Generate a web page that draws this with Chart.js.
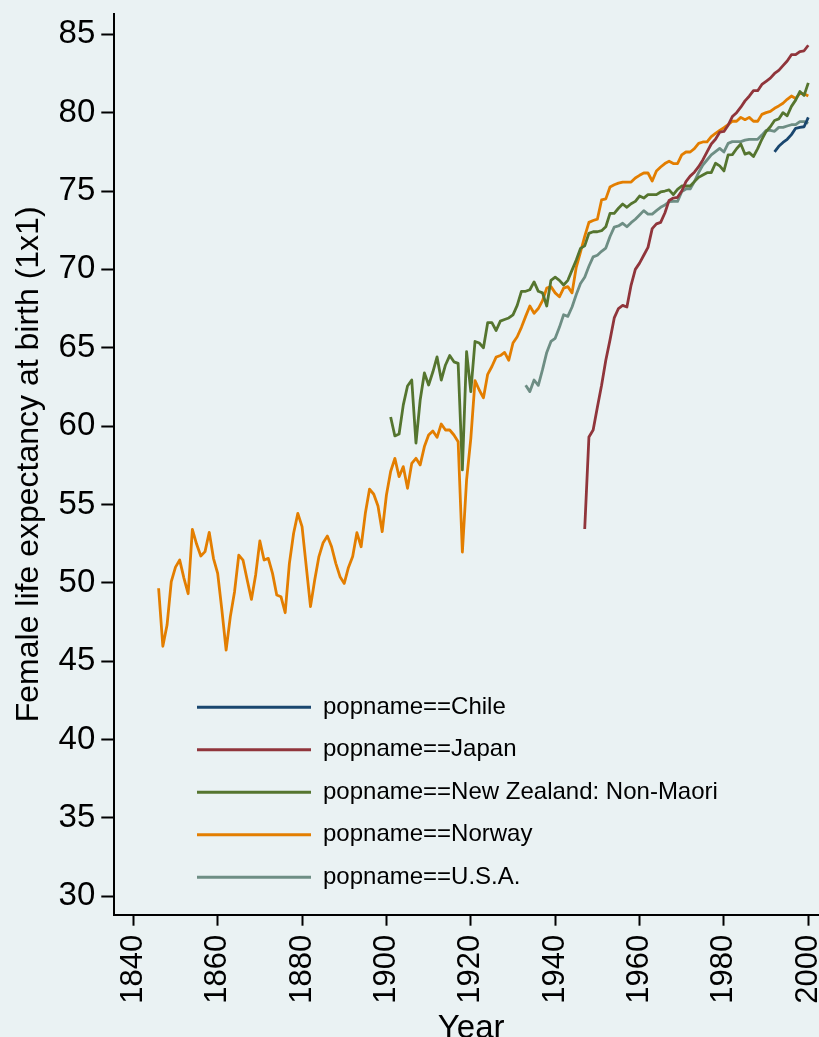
<!DOCTYPE html>
<html>
<head>
<meta charset="utf-8">
<script src="https://cdn.jsdelivr.net/npm/chart.js@4/dist/chart.umd.min.js"></script>
<style>
  html, body { margin: 0; padding: 0; background: #eaf2f3; overflow: hidden; width: 819px; height: 1037px; }
  #wrap { position: absolute; left: 0; top: 0; width: 880px; height: 1080px; }
  canvas { display: block; }
</style>
</head>
<body>
<div id="wrap"><canvas id="c" width="880" height="1080"></canvas></div>
<script>
// ---------------- data ----------------
const xTickValues = [1840, 1860, 1880, 1900, 1920, 1940, 1960, 1980, 2000];
const yTickValues = [30, 35, 40, 45, 50, 55, 60, 65, 70, 75, 80, 85];

const seriesLabels = ['popname==Chile', 'popname==Japan', 'popname==New Zealand: Non-Maori', 'popname==Norway', 'popname==U.S.A.'];
const seriesColors = ['#1a476f', '#90353b', '#55752f', '#e37e00', '#6e8e84'];

const chileFirstYear = 1992;
const chileValues = [77.5, 77.85, 78.1, 78.3, 78.6, 79.0, 79.06, 79.1, 79.7];

const japanFirstYear = 1947;
const japanValues = [
  53.43, 59.3, 59.75,
  61.2, 62.6, 64.2, 65.5, 66.9, 67.5, 67.7, 67.6, 69.0, 70.0,
  70.4, 70.9, 71.4, 72.6, 72.9, 73.0, 73.6, 74.4, 74.55, 74.6,
  75.0, 75.6, 75.95, 76.2, 76.55, 76.98, 77.5, 78.0, 78.3, 78.75,
  78.8, 79.2, 79.75, 80.0, 80.35, 80.75, 81.05, 81.4, 81.4, 81.8,
  82.0, 82.2, 82.5, 82.7, 83.0, 83.3, 83.7, 83.7, 83.9, 83.95, 84.3
];

const nzFirstYear = 1901;
const nzValues = [
  60.58, 59.37, 59.49, 61.35, 62.56, 62.94, 58.92, 61.66, 63.39,
  62.62, 63.45, 64.41, 62.94, 63.9, 64.5, 64.1, 64.0, 57.2, 64.75,
  62.2, 65.4, 65.3, 65.0, 66.6, 66.6, 66.1, 66.7, 66.8, 66.9,
  67.1, 67.7, 68.6, 68.6, 68.7, 69.2, 68.6, 68.5, 67.66, 69.3,
  69.5, 69.3, 69.0, 69.3, 69.95, 70.6, 71.34, 71.5, 72.3, 72.4,
  72.4, 72.47, 72.72, 73.57, 73.57, 73.9, 74.17, 73.96, 74.19, 74.34,
  74.68, 74.55, 74.77, 74.77, 74.77, 74.94, 75.0, 75.07, 74.77, 75.11,
  75.32, 75.32, 75.32, 75.6, 75.87, 76.02, 76.17, 76.17, 76.77, 76.6,
  76.28, 77.3, 77.32, 77.7, 78.0, 77.35, 77.45, 77.2, 77.7, 78.3,
  78.8, 79.1, 79.5, 79.6, 80.0, 79.8, 80.4, 80.8, 81.35, 81.1, 81.9
];

const norwayFirstYear = 1846;
const norwayValues = [
  49.65, 45.95, 47.3, 50.07,
  51.0, 51.45, 50.3, 49.3, 53.41, 52.47, 51.71, 51.99, 53.22, 51.56,
  50.6, 48.26, 45.71, 47.84, 49.43, 51.77, 51.45, 50.18, 48.94, 50.5,
  52.67, 51.45, 51.56, 50.6, 49.22, 49.11, 48.09, 51.24, 53.16, 54.43,
  53.58, 51.03, 48.48, 50.18, 51.67, 52.56, 52.98, 52.3, 51.24, 50.39,
  49.96, 50.98, 51.67, 53.2, 52.3, 54.43, 55.98, 55.65, 54.9, 53.26,
  55.6, 57.1, 57.94, 56.77, 57.41, 56.03, 57.62, 57.94, 57.52, 58.69,
  59.43, 59.69, 59.28, 60.13, 59.75, 59.75, 59.43, 59.0, 51.96, 56.56,
  59.2, 62.9, 62.3, 61.8, 63.3, 63.8, 64.4, 64.5, 64.7, 64.2,
  65.3, 65.7, 66.3, 67.0, 67.66, 67.2, 67.5, 68.0, 68.8, 68.9,
  68.5, 68.25, 68.8, 68.9, 68.5, 70.15, 71.1, 72.1, 73.0, 73.12,
  73.2, 74.43, 74.5, 75.26, 75.4, 75.5, 75.57, 75.57, 75.57, 75.83,
  76.0, 76.15, 76.15, 75.64, 76.28, 76.53, 76.75, 76.9, 76.75, 76.75,
  77.3, 77.49, 77.49, 77.7, 78.04, 78.13, 78.13, 78.47, 78.68, 78.87,
  79.04, 79.23, 79.45, 79.45, 79.7, 79.55, 79.7, 79.45, 79.45, 79.89,
  80.0, 80.08, 80.28, 80.43, 80.6, 80.85, 81.06, 80.9, 81.23, 81.2, 81.06
];

const usaFirstYear = 1933;
const usaValues = [
  62.6, 62.2, 62.94, 62.6, 63.6, 64.7, 65.4,
  65.6, 66.3, 67.1, 67.0, 67.6, 68.4, 69.1, 69.5, 70.2, 70.8,
  70.9, 71.15, 71.36, 72.1, 72.7, 72.77, 72.94, 72.72, 72.98, 73.2,
  73.47, 73.75, 73.53, 73.53, 73.75, 73.96, 74.1, 74.32, 74.34, 74.34,
  74.96, 75.13, 75.13, 75.6, 76.17, 76.66, 76.98, 77.3, 77.51, 77.72,
  77.49, 78.04, 78.15, 78.15, 78.15, 78.25, 78.3, 78.3, 78.3, 78.57,
  78.87, 78.87, 78.81, 79.06, 79.06, 79.15, 79.23, 79.23, 79.43, 79.43, 79.32
];

// ---------------- chart ----------------
const FONT = '"Liberation Sans", Arial, Helvetica, sans-serif';
Chart.defaults.font.family = FONT;
Chart.defaults.color = '#000';

function toPoints(firstYear, values) {
  return values.map((v, i) => ({ x: firstYear + i, y: v }));
}

const seriesData = [
  toPoints(chileFirstYear, chileValues),
  toPoints(japanFirstYear, japanValues),
  toPoints(nzFirstYear, nzValues),
  toPoints(norwayFirstYear, norwayValues),
  toPoints(usaFirstYear, usaValues)
];

const datasets = seriesLabels.map((label, i) => ({
  label: label,
  data: seriesData[i],
  borderColor: seriesColors[i],
  backgroundColor: seriesColors[i],
  pointBorderColor: seriesColors[i],
  pointBackgroundColor: seriesColors[i],
  borderWidth: 2.8,
  pointBorderWidth: 3,
  pointRadius: 0,
  pointHoverRadius: 0,
  tension: 0,
  fill: false,
  borderJoinStyle: 'round'
}));

const CANVAS_H = 1080;
const AREA_LEFT = 114.3, AREA_TOP = 14, AREA_RIGHT = 828, AREA_BOTTOM = 914.7;

const legendPlacer = {
  id: 'legendPlacer',
  afterLayout(chart) {
    const lg = chart.legend;
    if (!lg) return;
    lg.left = 178.5; lg.top = 676.8; lg.right = 780; lg.bottom = 1000;
    lg.width = lg.right - lg.left; lg.height = lg.bottom - lg.top;
  }
};

new Chart(document.getElementById('c'), {
  type: 'line',
  data: { datasets: datasets },
  plugins: [legendPlacer],
  options: {
    responsive: false,
    maintainAspectRatio: false,
    devicePixelRatio: 1,
    animation: false,
    events: [],
    layout: { padding: { left: 0, top: AREA_TOP, right: 880 - AREA_RIGHT, bottom: 0 } },
    plugins: {
      tooltip: { enabled: false },
      legend: {
        display: true,
        position: 'chartArea',
        fullSize: false,
        align: 'start',
        labels: {
          color: '#000',
          font: { family: FONT, size: 24 },
          usePointStyle: true,
          pointStyle: 'line',
          pointStyleWidth: 114,
          padding: 18.5
        }
      }
    },
    scales: {
      x: {
        type: 'linear',
        position: 'bottom',
        bounds: 'data',
        min: 1840 - 19 / 4.21875,
        max: 1840 - 19 / 4.21875 + (AREA_RIGHT - AREA_LEFT) / 4.21875,
        afterBuildTicks: (s) => { s.ticks = xTickValues.map(v => ({ value: v })); },
        afterFit: (s) => { s.height = CANVAS_H - AREA_BOTTOM; s.paddingLeft = 0; s.paddingRight = 0; s.paddingTop = 0; s.paddingBottom = 0; },
        border: { display: true, color: '#000', width: 2 },
        grid: { display: true, drawOnChartArea: false, drawTicks: true, tickLength: 11, tickWidth: 2, tickColor: '#000' },
        ticks: {
          color: '#000',
          font: { family: FONT, size: 31 },
          padding: 9,
          minRotation: 90,
          maxRotation: 90,
          autoSkip: false,
          callback: (v) => String(v)
        },
        title: {
          display: true,
          text: 'Year',
          color: '#000',
          font: { family: FONT, size: 33 },
          padding: { top: 0, bottom: 31.4 }
        }
      },
      y: {
        type: 'linear',
        position: 'left',
        bounds: 'data',
        min: 30 - (AREA_BOTTOM - 896.2) / 15.671,
        max: 85 + (34.3 - AREA_TOP) / 15.671,
        afterBuildTicks: (s) => { s.ticks = yTickValues.map(v => ({ value: v })); },
        afterFit: (s) => { s.width = AREA_LEFT; s.paddingTop = 0; s.paddingBottom = 0; s.paddingLeft = 0; s.paddingRight = 0; },
        border: { display: true, color: '#000', width: 2 },
        grid: { display: true, drawOnChartArea: false, drawTicks: true, tickLength: 13, tickWidth: 2, tickColor: '#000' },
        ticks: {
          color: '#000',
          font: { family: FONT, size: 33 },
          padding: 6,
          callback: (v) => String(v)
        },
        title: {
          display: true,
          text: 'Female life expectancy at birth (1x1)',
          color: '#000',
          font: { family: FONT, size: 32 },
          padding: { top: 10, bottom: 0 }
        }
      }
    }
  }
});
</script>
</body>
</html>
